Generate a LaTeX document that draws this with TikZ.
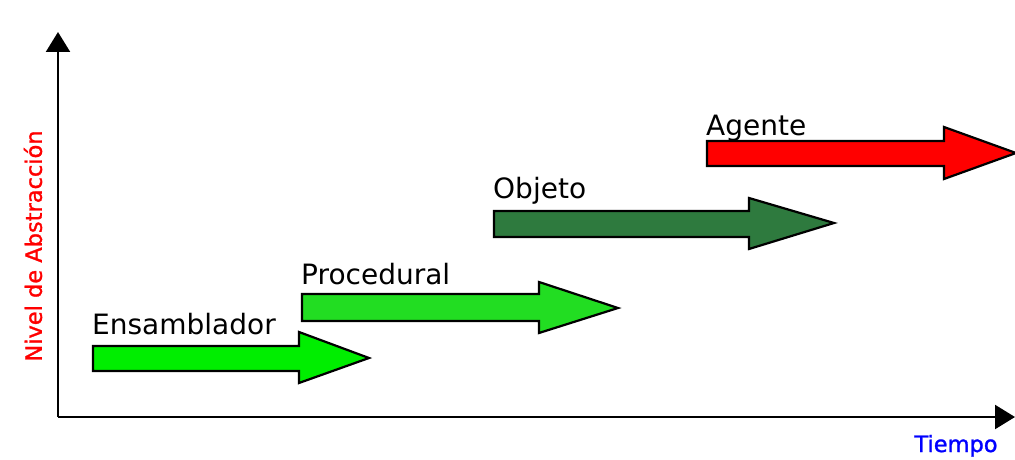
\documentclass[tikz,border=0pt]{standalone}
\usepackage{fontspec}
\setmainfont{DejaVu Sans}
\newfontfamily\axisfont[FakeBold=1.2]{DejaVu Sans}
\usetikzlibrary{arrows.meta}
\definecolor{asmgreen}{RGB}{0,238,0}
\definecolor{procgreen}{RGB}{34,221,34}
\definecolor{objgreen}{RGB}{46,122,62}
\definecolor{agentred}{RGB}{255,0,0}
\definecolor{timeblue}{RGB}{0,0,255}
\tikzset{
  axisline/.style={line width=2.2pt, -{Triangle[length=20pt,width=24pt]}},
  blockarrow/.style={draw=black, line width=2.2pt, line join=miter},
  paradigm/.style={anchor=base west, inner sep=0pt, font=\fontsize{28}{28}\selectfont},
  axislabel/.style={inner sep=0pt, font=\axisfont\fontsize{22.5}{22.5}\selectfont}
}
\begin{document}
\begin{tikzpicture}[x=1pt,y=-1pt]
\useasboundingbox (0,0) rectangle (1015,460);
% axes
\coordinate (origin) at (58,417);
\coordinate (ytop) at (58,32);
\coordinate (xend) at (1015,417);
\draw[axisline] (origin) -- (ytop);
\draw[axisline] (origin) -- (xend);
\node[axislabel, text=agentred, rotate=90] (ylab) at (33,246) {Nivel de Abstracción};
\node[axislabel, text=timeblue, anchor=base] (xlab) at (956,452) {Tiempo};
% block arrows: body left, top, bottom; head base x, head top, head bottom; tip
\draw[blockarrow, fill=asmgreen] (93,346) -- (299,346) -- (299,332) -- (369,358) -- (299,383) -- (299,371) -- (93,371) -- cycle;
\draw[blockarrow, fill=procgreen] (302,294) -- (539,294) -- (539,282) -- (618,308) -- (539,333) -- (539,321) -- (302,321) -- cycle;
\draw[blockarrow, fill=objgreen] (494,211) -- (749,211) -- (749,198) -- (834,223) -- (749,249) -- (749,237) -- (494,237) -- cycle;
\draw[blockarrow, fill=agentred] (707,141) -- (944,141) -- (944,127) -- (1016,153) -- (944,179) -- (944,166) -- (707,166) -- cycle;
% labels
\node[paradigm] (asm) at (92,334) {Ensamblador};
\node[paradigm] (proc) at (301,284) {Procedural};
\node[paradigm] (obj) at (493,198) {Objeto};
\node[paradigm] (agent) at (706,135) {Agente};
\end{tikzpicture}
\end{document}
